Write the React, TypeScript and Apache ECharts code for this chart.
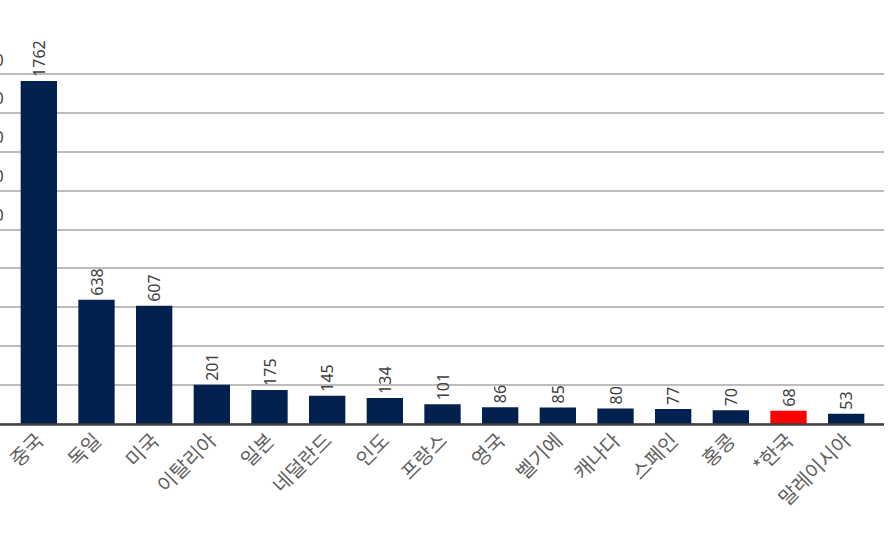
import React, { useEffect, useRef } from "react";
import * as echarts from "echarts";

const categories = ["중국", "독일", "미국", "이탈리아", "일본", "네덜란드", "인도", "프랑스", "영국", "벨기에", "캐나다", "스페인", "홍콩", "*한국", "말레이시아"];
const values = [1762, 638, 607, 201, 175, 145, 134, 101, 86, 85, 80, 77, 70, 68, 53];
const highlighted = ["*한국"];
const yMin = 0;
const yMax = 1800;
const yStep = 200;

const NAVY = "#03214f";
const RED = "#ff0000";

export default function App() {
  const ref = useRef<HTMLDivElement>(null);
  useEffect(() => {
    if (!ref.current) return;
    const chart = echarts.init(ref.current, undefined, { renderer: "svg" });
    const data = values.map((v, i) => ({
      value: v,
      itemStyle: { color: highlighted.includes(categories[i]) ? RED : NAVY },
    }));
    chart.setOption({
      animation: false,
      grid: [
        { left: 0, right: 4, top: 73.5, bottom: 109, containLabel: false, outerBoundsMode: "none" },
        { left: 10, right: 13, top: 73.5, bottom: 109, containLabel: false, outerBoundsMode: "none" },
      ],
      xAxis: [
        { type: "category", gridIndex: 0, data: categories, show: false },
        {
          type: "category",
          gridIndex: 1,
          data: categories,
          axisLine: { show: false },
          axisTick: { show: false },
          axisLabel: {
            rotate: 45,
            interval: 0,
            margin: 12,
            fontSize: 20,
            color: "#5f5f5f",
            fontFamily: "Noto Sans CJK KR",
            hideOverlap: false,
          },
        },
      ],
      yAxis: [
        {
          type: "value",
          gridIndex: 0,
          min: yMin,
          max: yMax,
          interval: yStep,
          axisLine: { show: false },
          axisTick: { show: false },
          splitLine: { lineStyle: { color: "#a6a6a6", width: 1.5 } },
          axisLabel: {
            show: true,
            align: "left",
            margin: 33,
            verticalAlign: "bottom",
            padding: [0, 0, 6, 0],
            fontSize: 16,
            color: "#404040",
            fontFamily: "Noto Sans",
            formatter: (v: number) => String(v),
          },
        },
        {
          type: "value",
          gridIndex: 1,
          min: yMin,
          max: yMax,
          interval: yStep,
          show: false,
          splitLine: { show: false },
        },
      ],
      series: [
        {
          type: "bar",
          xAxisIndex: 1,
          yAxisIndex: 1,
          data,
          barCategoryGap: "37%",
          label: {
            show: true,
            position: "top",
            rotate: 90,
            align: "left",
            verticalAlign: "middle",
            distance: 4,
            fontSize: 16,
            color: "#404040",
            fontFamily: "Noto Sans",
          },
        },
        {
          type: "line",
          xAxisIndex: 0,
          yAxisIndex: 0,
          data: [],
          markLine: {
            silent: true,
            symbol: "none",
            label: { show: false },
            lineStyle: { color: "#404040", width: 2.5, type: "solid" },
            data: [{ yAxis: yMin }],
          },
        },
      ],
    });
    return () => chart.dispose();
  }, []);
  return <div ref={ref} style={{ width: 888, height: 533, position: "absolute", left: 0, top: 0 }} />;
}
